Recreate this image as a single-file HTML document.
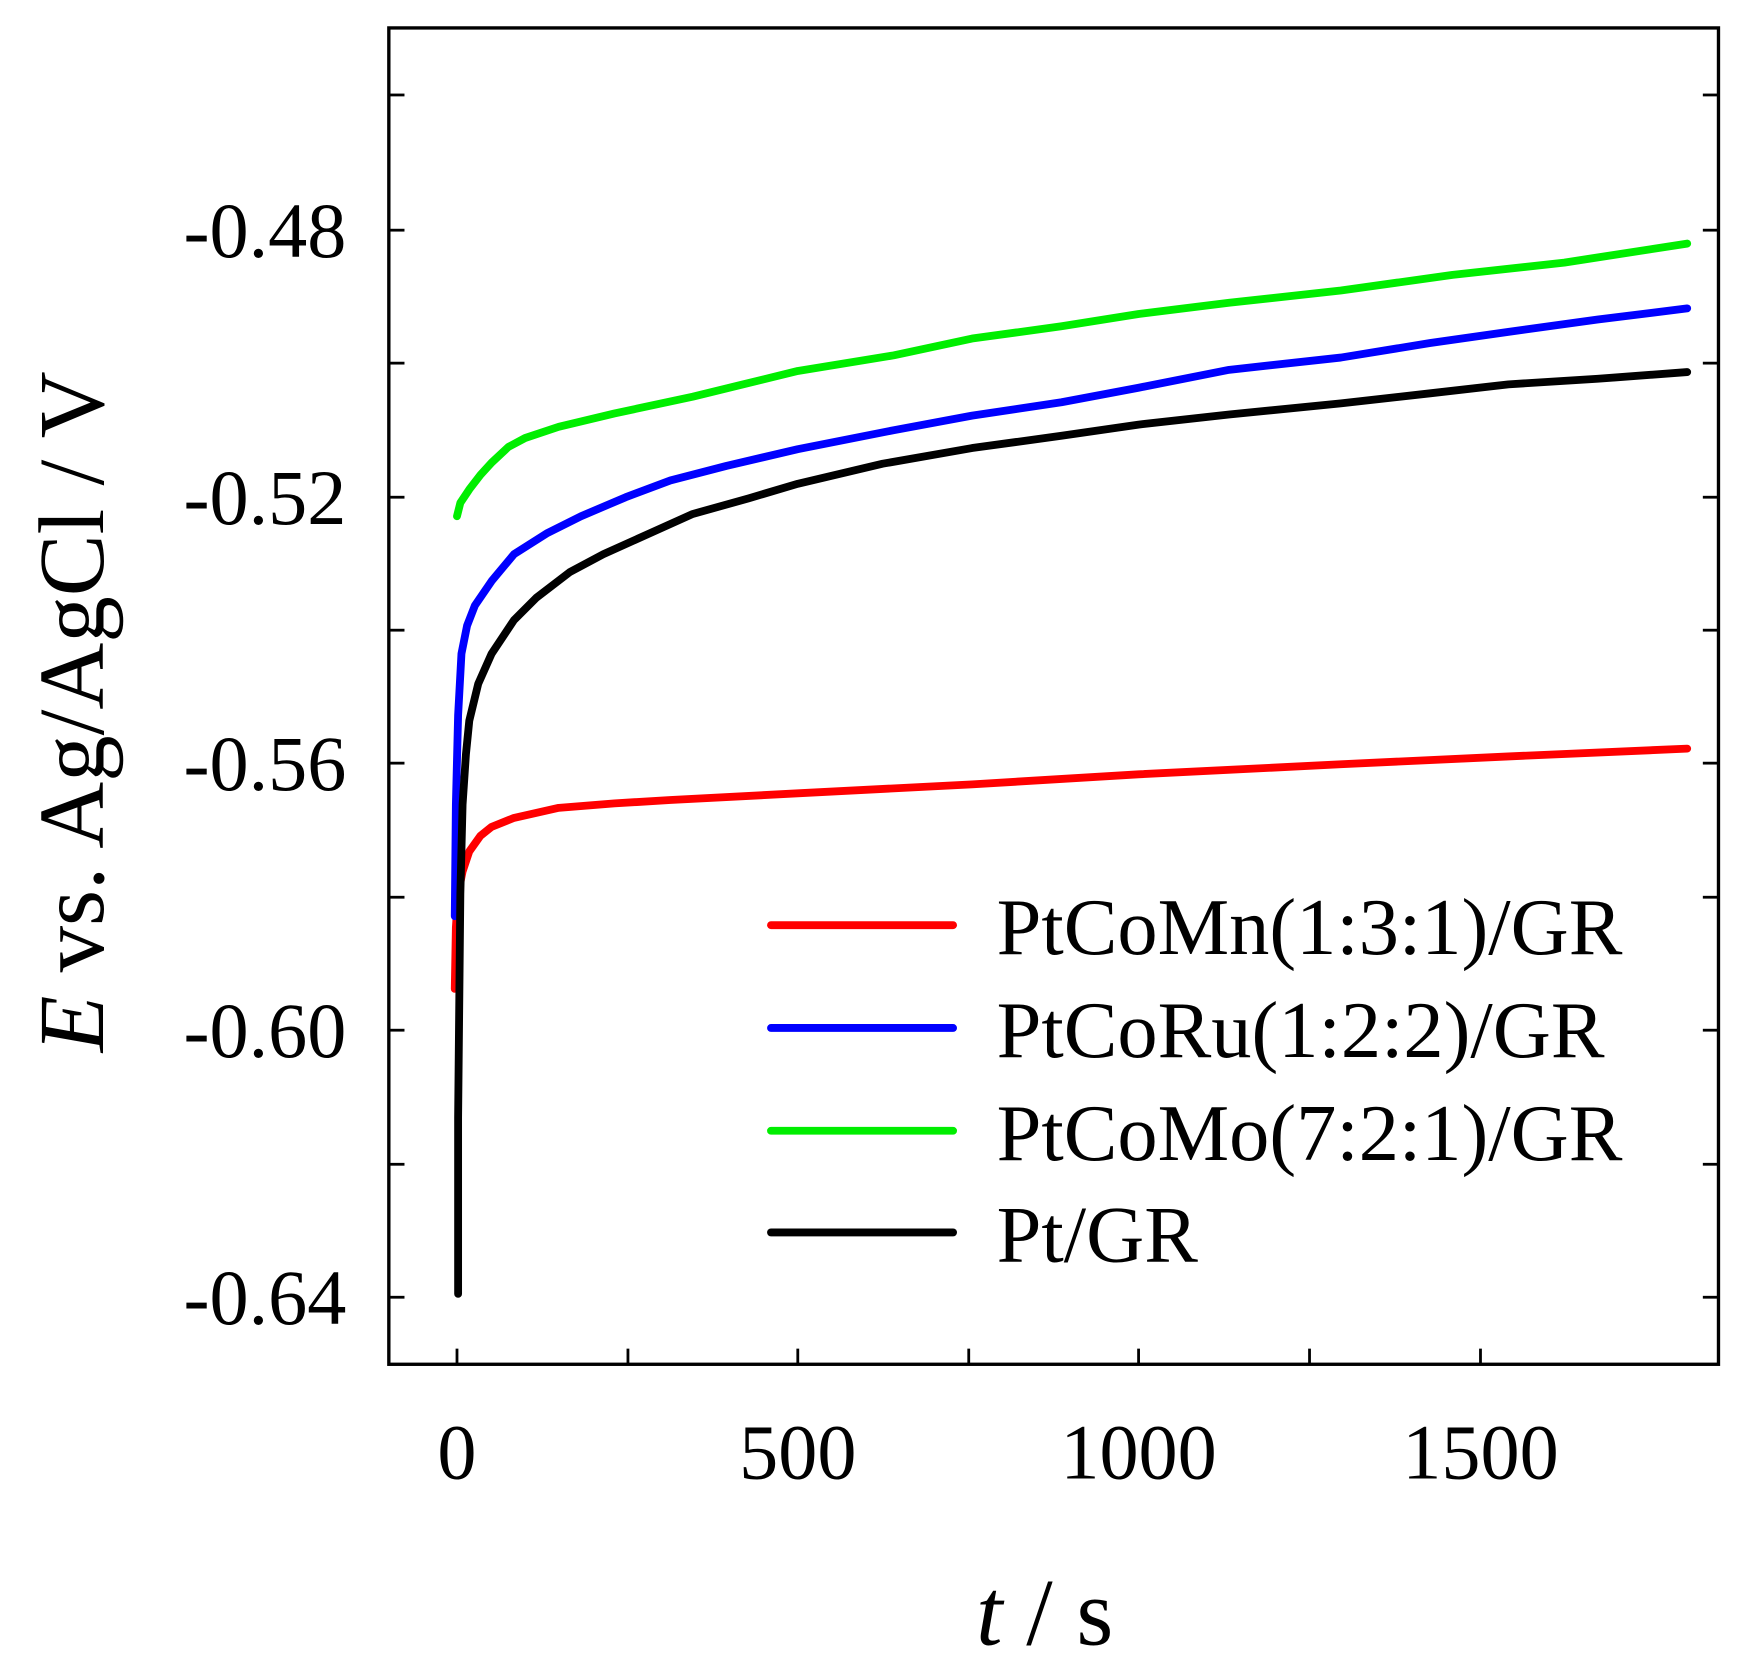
<!DOCTYPE html>
<html><head><style>html,body{margin:0;padding:0;background:#fff}svg{display:block}</style></head>
<body>
<svg width="1752" height="1680" viewBox="0 0 1568 1503.56" preserveAspectRatio="none" xmlns="http://www.w3.org/2000/svg" font-family="Liberation Serif, serif">
<rect x="348" y="25" width="1190" height="1196" fill="none" stroke="#000" stroke-width="3"/>
<g stroke="#000" stroke-width="2.5">
<line x1="348" y1="85" x2="362" y2="85"/><line x1="1538" y1="85" x2="1524" y2="85"/>
<line x1="348" y1="206" x2="362" y2="206"/><line x1="1538" y1="206" x2="1524" y2="206"/>
<line x1="348" y1="325" x2="362" y2="325"/><line x1="1538" y1="325" x2="1524" y2="325"/>
<line x1="348" y1="445" x2="362" y2="445"/><line x1="1538" y1="445" x2="1524" y2="445"/>
<line x1="348" y1="564" x2="362" y2="564"/><line x1="1538" y1="564" x2="1524" y2="564"/>
<line x1="348" y1="683" x2="362" y2="683"/><line x1="1538" y1="683" x2="1524" y2="683"/>
<line x1="348" y1="803" x2="362" y2="803"/><line x1="1538" y1="803" x2="1524" y2="803"/>
<line x1="348" y1="922" x2="362" y2="922"/><line x1="1538" y1="922" x2="1524" y2="922"/>
<line x1="348" y1="1042" x2="362" y2="1042"/><line x1="1538" y1="1042" x2="1524" y2="1042"/>
<line x1="348" y1="1161" x2="362" y2="1161"/><line x1="1538" y1="1161" x2="1524" y2="1161"/>
<line x1="409" y1="1221" x2="409" y2="1207"/><line x1="562" y1="1221" x2="562" y2="1207"/>
<line x1="714" y1="1221" x2="714" y2="1207"/><line x1="867" y1="1221" x2="867" y2="1207"/>
<line x1="1019" y1="1221" x2="1019" y2="1207"/><line x1="1172" y1="1221" x2="1172" y2="1207"/>
<line x1="1325" y1="1221" x2="1325" y2="1207"/>
</g>
<g font-size="70" text-anchor="end">
<text x="310" y="230">-0.48</text><text x="310" y="469">-0.52</text>
<text x="310" y="707">-0.56</text><text x="310" y="946">-0.60</text><text x="310" y="1185">-0.64</text>
</g>
<g font-size="70" text-anchor="middle">
<text x="409" y="1323">0</text><text x="714" y="1323">500</text>
<text x="1019" y="1323">1000</text><text x="1325" y="1323">1500</text>
</g>
<text x="935" y="1472" font-size="85" text-anchor="middle"><tspan font-style="italic">t</tspan> / s</text>
<text transform="translate(92,637) rotate(-90)" font-size="83" text-anchor="middle"><tspan font-style="italic">E</tspan> vs. Ag/AgCl / V</text>
<g fill="none" stroke-width="7" stroke-linejoin="round" stroke-linecap="round">
<path stroke="#ff0000" d="M407,885 L408,830 410,800 414,780 420,762 430,748 440,740 460,732 500,723 550,719 600,716 714,710 870,702 1019,693 1200,684 1350,677 1510,670"/>
<path stroke="#0000ff" d="M407,820 L408,720 410,640 413,585 418,560 425,542 440,520 460,496 490,477 520,462 560,445 600,430 650,417 714,402 800,385 870,372 950,360 1019,347 1100,331 1200,320 1280,307 1350,297 1430,286 1510,276"/>
<path stroke="#00ee00" d="M409,462 L412,450 420,438 430,425 440,414 455,400 470,392 500,382 550,370 620,355 714,332 800,318 870,303 950,292 1019,281 1100,271 1200,260 1300,246 1400,235 1510,218"/>
<path stroke="#000000" d="M410,1158 L410,1000 411,900 412,800 414,720 417,675 420,645 428,612 440,585 460,555 480,535 510,512 540,496 580,478 620,460 670,446 714,433 790,415 870,401 950,390 1019,380 1100,371 1200,361 1280,352 1350,344 1430,339 1510,333"/>
</g>
<g stroke-width="7" stroke-linecap="round">
<line x1="690" y1="828" x2="853" y2="828" stroke="#ff0000"/>
<line x1="690" y1="920" x2="853" y2="920" stroke="#0000ff"/>
<line x1="690" y1="1012" x2="853" y2="1012" stroke="#00ee00"/>
<line x1="690" y1="1103" x2="853" y2="1103" stroke="#000"/>
</g>
<g font-size="72">
<text x="892" y="854">PtCoMn(1:3:1)/GR</text>
<text x="892" y="946">PtCoRu(1:2:2)/GR</text>
<text x="892" y="1038">PtCoMo(7:2:1)/GR</text>
<text x="892" y="1129">Pt/GR</text>
</g>
</svg>
</body></html>
